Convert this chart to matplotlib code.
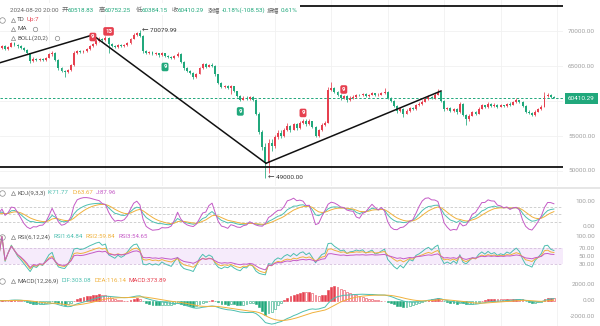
import numpy as np
import matplotlib
matplotlib.use("Agg")
from matplotlib import pyplot as plt
from matplotlib import transforms
from matplotlib.lines import Line2D
from matplotlib.patches import Rectangle

plt.rcParams['font.family'] = ['Roboto', 'Noto Sans CJK SC', 'DejaVu Sans']

W, H = 600, 326
RED = '#e6404f'
GREEN = '#21a87c'
TEAL = '#4dbfb0'
GOLD = '#f0b13c'
PURPLE = '#c45ac6'
GRID = '#f1f1f1'
LABEL = '#666666'

# 4h BTC candles, last one 2024-08-20 20:00
first_open = 67400
closes = [67600, 67850, 67500, 67750, 68250, 68050, 67800, 67600, 67300, 66800,
          65700, 66050, 65800, 66000, 65850, 66200, 66650, 66900, 65900, 64650,
          64300, 64100, 64450, 65150, 66900, 67100, 66950, 67100, 67400, 67800,
          68150, 68600, 68900, 68700, 69000, 68100, 67900, 67700, 68000, 67800,
          67950, 68300, 68900, 69500, 69700, 69300, 67100, 66900, 67050, 66700,
          66800, 66550, 66800, 66500, 66300, 66100, 66400, 66700, 65600, 64700,
          64300, 64000, 63400, 63900, 64700, 65300, 64900, 65200, 65000, 63800,
          62600, 62000, 62200, 61900, 62100, 61400, 60700, 60200, 60500, 60300,
          60600, 60200, 58200, 55600, 53400, 51200, 54000, 53500, 54800, 55500,
          55000, 55900, 56400, 55900, 56700, 56200, 56900, 57200, 56700, 57100,
          56300, 55000, 55800, 56600, 56900, 61600, 61900, 61300, 60900, 60400,
          60700, 60100, 60500, 60600, 60900, 60800, 61000, 60700, 60900, 61100,
          60800, 60900, 61100, 61300, 60500, 60000, 59300, 58600, 58900, 58200,
          58600, 59000, 58800, 59400, 59600, 59900, 60300, 60600, 60400, 60900,
          61300, 60000, 58800, 59000, 58600, 58900, 58400, 59600, 58000, 57400,
          57900, 58400, 58200, 58900, 59400, 59100, 59600, 59300, 59500, 59200,
          59400, 59300, 59600, 59500, 59800, 60100, 59900, 59300, 58500, 58300,
          58000, 58500, 58800, 59200, 60700, 60900, 60518.83, 60410.29]
highs = [67900, 68050, 67950, 67900, 68450, 68400, 68150, 67950, 67700, 67400,
         66900, 66250, 66200, 66150, 66100, 66350, 66800, 67150, 67000, 66000,
         64800, 64450, 64600, 65300, 67100, 67300, 67250, 67300, 67550, 67950,
         68350, 68800, 69100, 69000, 69350, 69150, 68300, 68050, 68150, 68100,
         68100, 68450, 69050, 69650, 69900, 70079.99, 69400, 67250, 67200, 67150,
         66950, 66900, 66950, 66900, 66600, 66400, 66550, 67000, 66800, 65700,
         64850, 64450, 64100, 64050, 64850, 65500, 65400, 65350, 65500, 65200,
         63900, 62700, 62350, 62300, 62250, 62200, 61500, 60800, 60650, 60650,
         60750, 60700, 60300, 58400, 55800, 54000, 54500, 54600, 55200, 55900,
         55800, 56200, 56800, 56600, 56900, 56900, 57100, 57500, 57400, 57400,
         57200, 56400, 56000, 56800, 57100, 62000, 62700, 62000, 61500, 61000,
         60850, 60800, 60650, 60800, 61050, 61050, 61150, 61100, 61050, 61250,
         61200, 61100, 61250, 61900, 61400, 60600, 60100, 59400, 59100, 59000,
         58800, 59200, 59150, 59550, 59800, 60100, 60450, 60800, 60700, 61100,
         61700, 61400, 60100, 59200, 59100, 59050, 59000, 59800, 59700, 58100,
         58100, 58600, 58550, 59100, 59600, 59500, 59800, 59700, 59650, 59600,
         59550, 59500, 59750, 59800, 60000, 60400, 60200, 60000, 59400, 58700,
         58400, 58650, 58950, 59400, 61300, 61100, 61000, 60752.25]
lows = [67250, 67450, 67300, 67350, 67650, 67900, 67600, 67400, 67100, 66650,
        65500, 65550, 65650, 65650, 65700, 65750, 66100, 66500, 65750, 64500,
        64100, 63400, 63950, 64350, 65000, 66750, 66800, 66850, 66950, 67250,
        67700, 68000, 68450, 68500, 68600, 66900, 67700, 67550, 67600, 67650,
        67700, 67850, 68200, 68800, 69350, 69100, 66900, 66700, 66750, 66550,
        66550, 66350, 66450, 66350, 66150, 65950, 66000, 66300, 65450, 64500,
        64100, 63800, 63200, 63300, 63800, 64600, 64750, 64800, 64850, 63600,
        62400, 61800, 61900, 61750, 61000, 61250, 60550, 60000, 60100, 60150,
        60200, 60050, 58000, 55300, 53000, 49000, 49700, 52800, 53300, 54600,
        54700, 54900, 55700, 55600, 55800, 55900, 56000, 56700, 56500, 56600,
        56100, 54800, 54900, 55700, 56400, 56800, 61400, 61100, 60700, 60200,
        60300, 59900, 60000, 60350, 60500, 60650, 60700, 60550, 60600, 60800,
        60650, 60700, 60800, 61000, 60350, 59850, 59100, 58300, 58400, 57700,
        58100, 58500, 58650, 58700, 59250, 59500, 59800, 60200, 60250, 60300,
        60800, 59800, 58600, 58650, 58450, 58500, 58200, 58300, 57800, 56600,
        57200, 57800, 58000, 58100, 58800, 58950, 59000, 59150, 59200, 59050,
        59100, 59150, 59200, 59350, 59400, 59700, 59750, 59100, 58300, 58100,
        57800, 57900, 58400, 58700, 59100, 60550, 60400, 60384.15]
opens = [first_open] + closes[:-1]

price_ticks = [70000, 65000, 55000, 50000]
last_price = 60410.29
hline_prices = [73570, 50570]
trend_points = [(0.4, 65470), (29.9, 69430), (85.2, 51100), (141.0, 61430)]

td_index = [30, 35, 53, 77, 97, 110]
td_text = ['9', '13', '9', '9', '9', '9']
td_sell = [True, True, False, False, True, True]

# ---- indicators -------------------------------------------------------
c = np.array(closes, float)
h = np.array(highs, float)
l = np.array(lows, float)
n = len(c)
x = np.arange(n)


def sma_cn(v, period, weight):
    out = np.zeros(len(v))
    prev = 0.0
    for i, val in enumerate(v):
        prev = (weight * val + (period - weight) * prev) / period
        out[i] = prev
    return out


def ema(v, period):
    a = 2.0 / (period + 1)
    out = np.zeros(len(v))
    prev = v[0]
    for i, val in enumerate(v):
        prev = a * val + (1 - a) * prev
        out[i] = prev
    return out


rsv = np.zeros(n)
for i in range(n):
    hh = h[max(0, i - 8):i + 1].max()
    ll = l[max(0, i - 8):i + 1].min()
    rsv[i] = (c[i] - ll) / (hh - ll) * 100 if hh > ll else 50
k_line = np.zeros(n)
d_line = np.zeros(n)
kp = dp = 50.0
for i in range(n):
    kp = (2 * kp + rsv[i]) / 3
    dp = (2 * dp + kp) / 3
    k_line[i] = kp
    d_line[i] = dp
j_line = 3 * k_line - 2 * d_line

diff = np.diff(c, prepend=c[0])


def rsi(period):
    up = sma_cn(np.maximum(diff, 0), period, 1)
    ab = sma_cn(np.abs(diff), period, 1)
    return np.divide(up, ab, out=np.full(n, 0.5), where=ab > 0) * 100


rsi1, rsi2, rsi3 = rsi(6), rsi(12), rsi(24)

dif = ema(c, 12) - ema(c, 26)
dea = ema(dif, 9)
macd = 2 * (dif - dea)

# ---- layout -----------------------------------------------------------
fig = plt.figure(figsize=(W / 100, H / 100), dpi=100)
X0, X1 = 0.383, 179.9
RIGHT = 563
grid_x = np.arange(16, 180, 18)


def panel(top, bottom, ylim):
    ax = fig.add_axes([0, 1 - bottom / H, RIGHT / W, (bottom - top) / H])
    ax.set_xlim(X0, X1)
    ax.set_ylim(*ylim)
    ax.set_axis_off()
    for gx in grid_x:
        ax.axvline(gx, color=GRID, lw=0.6, zorder=0)
    return ax


def ftext(px, py, s, color=LABEL, size=4.5, **kw):
    return fig.text(px / W, 1 - py / H, s, color=color, fontsize=size,
                    va='center', ha='left', **kw)


def icon(px, py, marker, ms, color='#8a8a8a'):
    fig.add_artist(Line2D([px / W], [1 - py / H], marker=marker, ms=ms, mfc='none',
                          mec=color, mew=0.5, transform=fig.transFigure))


def right_label(ax, value, s):
    tr = transforms.blended_transform_factory(fig.transFigure, ax.transData)
    ax.text(595 / W, value, s, transform=tr, ha='right', va='center',
            fontsize=4.6, color='#a0a0a0', clip_on=False)


# price panel
axp = panel(0, 186, (47857, 74429))
for p in [50000, 55000, 60000, 65000, 70000]:
    axp.axhline(p, color=GRID, lw=0.6, zorder=0)

up = np.array(closes) >= np.array(opens)
cols = np.where(up, RED, GREEN)
axp.vlines(x, l, h, colors=cols, lw=0.55, zorder=2)
body_lo = np.minimum(opens, closes)
body_h = np.maximum(np.abs(c - np.array(opens)), 40)
axp.bar(x, body_h, bottom=body_lo, width=0.62, color=cols, lw=0, zorder=3)

axp.axhline(last_price, color=GREEN, lw=0.7, dashes=(2.5, 2), zorder=1)
for p in hline_prices:
    axp.axhline(p, color='#111111', lw=1.3, zorder=4)
tx, ty = zip(*trend_points)
axp.plot(tx[:3], ty[:3], color='#111111', lw=1.1, zorder=4)
axp.plot(tx[2:], ty[2:], color='#111111', lw=1.1, zorder=4)

for idx, s, sell in zip(td_index, td_text, td_sell):
    anchor = highs[idx] if sell else lows[idx]
    dy = 4 if sell else -7.5
    axp.annotate(s, (idx, anchor), xytext=(0, dy), textcoords='offset points',
                 ha='center', va='center', fontsize=4.3, color='white',
                 fontweight='bold', zorder=6,
                 bbox=dict(boxstyle='round,pad=0.3,rounding_size=0.3',
                           fc=RED if sell else GREEN, ec='none'))

hi_i = int(np.argmax(h))
lo_i = int(np.argmin(l))
axp.annotate('← %.2f' % h[hi_i], (hi_i, h[hi_i]), xytext=(1.5, 0),
             textcoords='offset points', ha='left', va='center',
             fontsize=4.6, color='#333333', zorder=6)
axp.annotate('← %.2f' % l[lo_i], (lo_i, l[lo_i]), xytext=(2, 0),
             textcoords='offset points', ha='left', va='center',
             fontsize=4.6, color='#333333', zorder=6)

for p in price_ticks:
    right_label(axp, p, '%.2f' % p)
tr = transforms.blended_transform_factory(fig.transFigure, axp.transData)
axp.text(568 / W, last_price, '%.2f' % last_price, transform=tr, ha='left',
         va='center', fontsize=4.6, color='white', clip_on=False,
         bbox=dict(boxstyle='square,pad=0.45', fc=GREEN, ec='none'))

# header strip over the drawn top line
fig.add_artist(Rectangle((0, 1 - 15 / H), 300 / W, 12 / H, transform=fig.transFigure,
                         fc='white', ec='none', zorder=5))
header = [(10, '2024-08-20 20:00', LABEL), (61.5, '开', LABEL), (68, '60518.83', GREEN),
          (98.5, '高', LABEL), (105, '60752.25', GREEN), (135.5, '低', LABEL),
          (141.5, '60384.15', GREEN), (171.5, '收', LABEL), (178, '60410.29', GREEN),
          (208, '涨幅', LABEL), (221.5, '-0.18%(-108.53)', GREEN),
          (267, '振幅', LABEL), (280.5, '0.61%', GREEN)]
for px, s, col in header:
    ftext(px, 10.5, s, col, zorder=6)
icon(2, 10.5, 'o', 4)
icon(2, 19.5, 'o', 4)
for py in (19.5, 29, 38.3):
    icon(13, py, '^', 3)
ftext(17, 19.5, 'TD', '#555555')
ftext(27, 19.5, 'Up:7', RED)
ftext(17, 29, 'MA', '#555555')
icon(35, 29, 'o', 3.2)
ftext(17, 38.3, 'BOLL(20,2)', '#555555')
icon(57, 38.3, 'o', 3.2)

# separator under the price panel
fig.add_artist(Rectangle((0, 1 - 189 / H), 1, 2 / H, transform=fig.transFigure,
                         fc='#e6e6e6', ec='none'))

# KDJ panel
axk = panel(189, 231, (-17.2, 150.8))
for lvl in (80, 50, 20):
    axk.axhline(lvl, color='#c9c9c9', lw=0.6, dashes=(3, 2), zorder=1)
axk.plot(x, k_line, color=TEAL, lw=0.7)
axk.plot(x, d_line, color=GOLD, lw=0.7)
axk.plot(x, j_line, color=PURPLE, lw=0.7)
right_label(axk, 100, '100.00')
right_label(axk, 0, '0.00')

# RSI panel
axr = panel(231, 276, (0.75, 113.25))
axr.axhspan(30, 70, color='#f6ebfb', lw=0, zorder=0)
for lvl in (70, 30):
    axr.axhline(lvl, color='#d4bfdd', lw=0.6, dashes=(3, 2), zorder=1)
axr.plot(x, rsi1, color=TEAL, lw=0.7)
axr.plot(x, rsi2, color=GOLD, lw=0.7)
axr.plot(x, rsi3, color=PURPLE, lw=0.7)
for lvl in (100, 70, 50, 30):
    right_label(axr, lvl, '%.2f' % lvl)

# MACD panel
axm = panel(276, 326, (-3193, 3117))
prev = np.concatenate([[0.0], macd[:-1]])
bar_col = np.where(macd >= 0, RED, GREEN)
solid = np.where(macd >= 0, macd >= prev, macd <= prev)
face = [col if s else 'white' for col, s in zip(bar_col, solid)]
axm.bar(x, macd, width=0.6, color=face, edgecolor=bar_col, lw=0.4, zorder=2)
axm.plot(x, dif, color=TEAL, lw=0.7, zorder=3)
axm.plot(x, dea, color=GOLD, lw=0.7, zorder=3)
for lvl in (2000, 0, -2000):
    right_label(axm, lvl, '%.2f' % lvl)

# indicator titles
rows = [(192.7, [(17, 'KDJ(9,3,3)', '#555555'), (48, 'K:71.77', TEAL),
                 (72.5, 'D:63.67', GOLD), (96, 'J:87.96', PURPLE)]),
        (236.7, [(17, 'RSI(6,12,24)', '#555555'), (53, 'RSI1:64.84', TEAL),
                 (85, 'RSI2:59.84', GOLD), (118.5, 'RSI3:54.65', PURPLE)]),
        (280.7, [(17, 'MACD(12,26,9)', '#555555'), (62, 'DIF:303.08', TEAL),
                 (94.5, 'DEA:116.14', GOLD), (128.5, 'MACD:373.89', RED)])]
for py, items in rows:
    icon(2, py, 'o', 4)
    icon(12.5, py, '^', 3)
    for px, s, col in items:
        ftext(px, py, s, col, size=4.4)

fig.savefig('out.png', dpi=100)
